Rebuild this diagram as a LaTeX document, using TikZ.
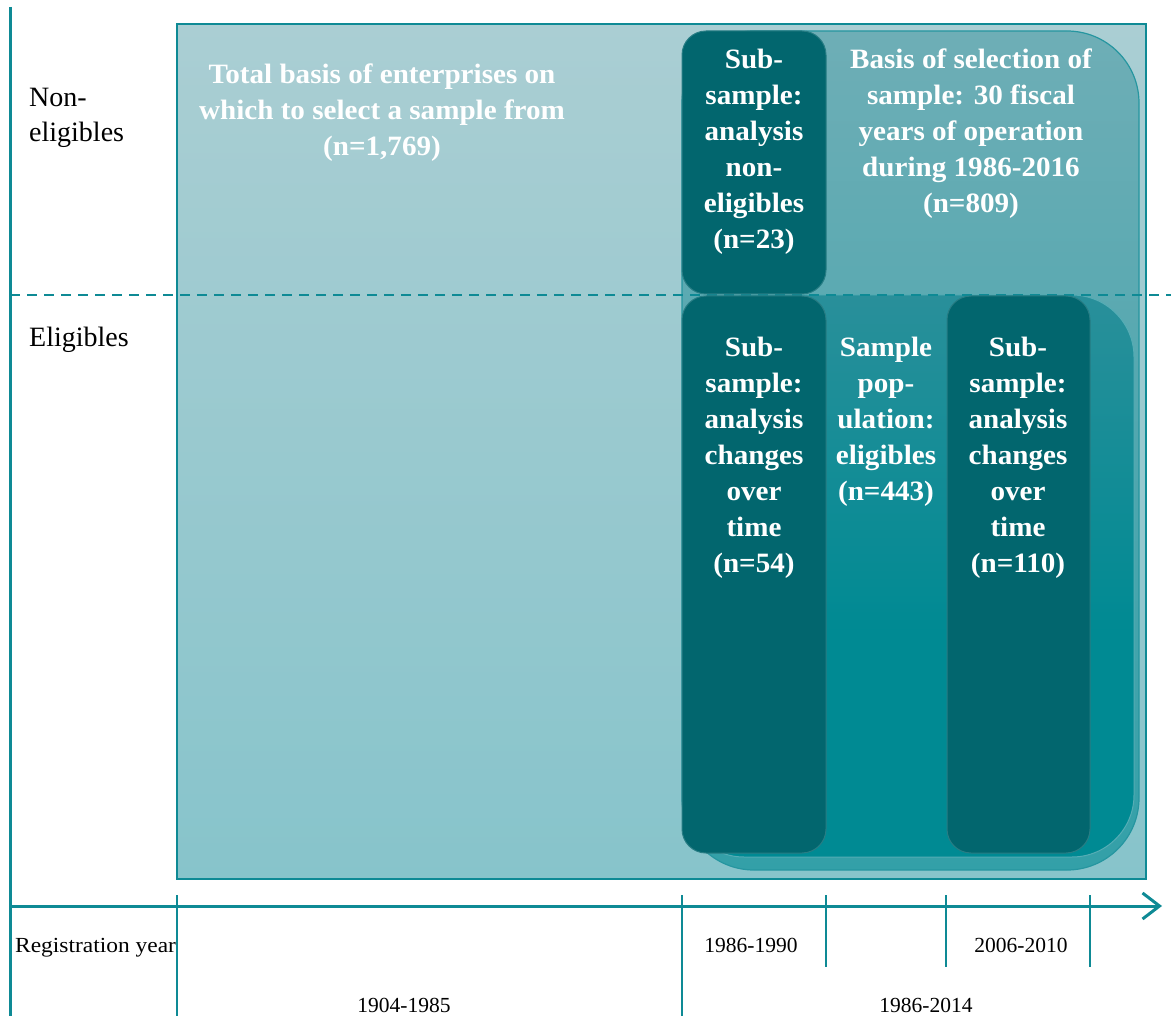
\documentclass[tikz,border=0pt]{standalone}
\usepackage{fontspec}
\usepackage{graphicx}
\setmainfont{Liberation Serif}[BoldFeatures={FakeStretch=1.04}]
\usetikzlibrary{arrows.meta}
\definecolor{axis}{HTML}{0E8A95}
\definecolor{bigtop}{HTML}{AACED3}
\definecolor{bigbot}{HTML}{87C4CB}
\definecolor{atop}{HTML}{6EAEB6}
\definecolor{abot}{HTML}{33A0A8}
\definecolor{btop}{HTML}{4B94A0}
\definecolor{bbot}{HTML}{008A93}
\definecolor{darkbox}{HTML}{02666E}
\pgfdeclareverticalshading{popshade}{100bp}{color(0bp)=(bbot); color(45bp)=(bbot); color(100bp)=(btop)}
\begin{document}
\begin{tikzpicture}[x=1pt,y=-1pt,
  axisline/.style={draw=axis,line width=3pt},
  tickline/.style={draw=axis,line width=2.5pt},
  boxtext/.style={text=white,font=\fontsize{28}{36}\selectfont\bfseries,align=center,inner sep=0pt,anchor=north},
  sidelabel/.style={text=black,font=\fontsize{28}{35}\selectfont,align=left,inner sep=0pt,anchor=north west},
  yearlabel/.style={text=black,font=\fontsize{21.5}{26}\selectfont,inner sep=0pt,anchor=base},
  darkstyle/.style={fill=darkbox,draw=darkbox!85!white,line width=1pt,rounded corners=24pt},
]
\useasboundingbox (0,0) rectangle (1171,1016);
% total basis rectangle
\path[draw=axis,line width=1.5pt,top color=bigtop,bottom color=bigbot] (177,24) rectangle (1146,879);
% basis of selection shape
\path[draw=axis!90!white,line width=1.2pt,top color=atop,bottom color=abot,rounded corners=72pt] (682,31) rectangle (1139,870);
% sample population shape
\path[draw=axis!70!white,line width=1pt,shading=popshade,rounded corners=62pt] (682,295) rectangle (1134,857);
% dashed divider
\coordinate (dl) at (10,295);
\coordinate (dr) at (1171,295);
\draw[draw=axis,line width=2pt,dash pattern=on 10pt off 7pt] (dl) -- (dr);
% dark sub-sample boxes
\path[darkstyle] (682,31) rectangle (826,294);
\path[darkstyle] (682,296) rectangle (826,853);
\path[darkstyle] (947,296) rectangle (1090,853);
% axes
\coordinate (vtop) at (10,7);
\coordinate (vbot) at (10,1016);
\coordinate (hl) at (10,906);
\coordinate (hr) at (1162,906);
\draw[axisline] (vtop) -- (vbot);
\draw[axisline,-{Straight Barb[length=17pt,width=26pt,line width=3pt]}] (hl) -- (hr);
\coordinate (t1a) at (177,895); \coordinate (t1b) at (177,1016);
\coordinate (t2a) at (682,895); \coordinate (t2b) at (682,1016);
\coordinate (t3a) at (826,895); \coordinate (t3b) at (826,967);
\coordinate (t4a) at (946,895); \coordinate (t4b) at (946,967);
\coordinate (t5a) at (1090,895); \coordinate (t5b) at (1090,967);
\draw[tickline] (t1a) -- (t1b);
\draw[tickline] (t2a) -- (t2b);
\draw[tickline] (t3a) -- (t3b);
\draw[tickline] (t4a) -- (t4b);
\draw[tickline] (t5a) -- (t5b);
% texts
\node[boxtext] (total) at (382,64) {Total basis of enterprises on\\which to select a sample from\\(n=1,769)};
\node[boxtext] (basis) at (971,49) {Basis of selection of\\sample: 30 fiscal\\years of operation\\during 1986-2016\\(n=809)};
\node[boxtext] (nonel) at (754,49) {Sub-\\sample:\\analysis\\non-\\eligibles\\(n=23)};
\node[boxtext] (sub54) at (754,337) {Sub-\\sample:\\analysis\\changes\\over\\time\\(n=54)};
\node[boxtext] (pop) at (886,337) {Sample\\pop-\\ulation:\\eligibles\\(n=443)};
\node[boxtext] (sub110) at (1018,337) {Sub-\\sample:\\analysis\\changes\\over\\time\\(n=110)};
\node[sidelabel] (nonlab) at (29,88) {Non-\\eligibles};
\node[sidelabel] (ellab) at (29,327) {Eligibles};
\node[yearlabel,anchor=base west] (reg) at (15,952) {\scalebox{1.09}[1]{Registration year}};
\node[yearlabel] (y1) at (404,1012) {1904-1985};
\node[yearlabel] (y2) at (751,952) {1986-1990};
\node[yearlabel] (y3) at (1021,952) {2006-2010};
\node[yearlabel] (y4) at (926,1012) {1986-2014};
\end{tikzpicture}
\end{document}
